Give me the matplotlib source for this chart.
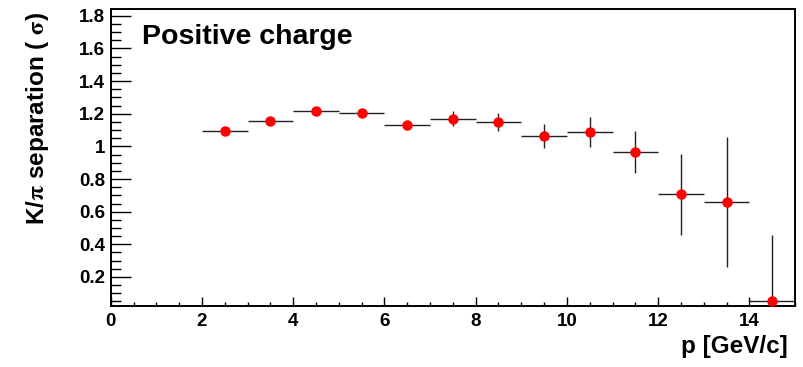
import matplotlib
matplotlib.use("Agg")
import matplotlib.pyplot as plt
from matplotlib.ticker import MultipleLocator, FuncFormatter

# momentum bins (GeV/c), separation and its uncertainty
bin_centers = [2.5, 3.5, 4.5, 5.5, 6.5, 7.5, 8.5, 9.5, 10.5, 11.5, 12.5, 13.5, 14.5]
bin_half_width = [0.5] * 13
separation = [1.094, 1.155, 1.216, 1.207, 1.130, 1.170, 1.149, 1.063, 1.088, 0.967, 0.706, 0.659, 0.055]
separation_err = [0.012, 0.012, 0.012, 0.012, 0.015, 0.045, 0.053, 0.072, 0.094, 0.130, 0.247, 0.400, 0.400]

plt.rcParams["font.family"] = ["Liberation Sans", "DejaVu Sans"]
plt.rcParams["font.weight"] = "bold"
plt.rcParams["mathtext.fontset"] = "stix"

fig = plt.figure(figsize=(8.04, 3.67), dpi=100)
ax = fig.add_axes([0.1377, 0.1662, 0.9888 - 0.1377, 0.9747 - 0.1662])

ax.errorbar(bin_centers, separation, xerr=bin_half_width, yerr=separation_err,
            fmt="o", color="red", markersize=6.5, ecolor="#222222", elinewidth=1.0,
            capsize=0, zorder=3)

ax.set_xlim(0, 15)
ax.set_ylim(0.022, 1.84)

ax.xaxis.set_major_locator(MultipleLocator(2))
ax.xaxis.set_minor_locator(MultipleLocator(0.5))
ax.yaxis.set_major_locator(MultipleLocator(0.2))
ax.yaxis.set_minor_locator(MultipleLocator(0.05))
ax.yaxis.set_major_formatter(FuncFormatter(lambda v, p: f"{v:.1f}".rstrip("0").rstrip(".")))

ax.tick_params(axis="both", which="both", direction="in", top=False, right=False,
               labelsize=13.5, width=1.0)
ax.tick_params(axis="y", which="major", length=14.4, pad=4)
ax.tick_params(axis="y", which="minor", length=7.2)
ax.tick_params(axis="x", which="major", length=6.5, pad=5)
ax.tick_params(axis="x", which="minor", length=3.2)
for lab in ax.get_xticklabels() + ax.get_yticklabels():
    lab.set_fontweight("bold")

for s in ax.spines.values():
    s.set_linewidth(1.4)

fig.text(142 / 804, 1 - 44 / 367, "Positive charge",
         fontsize=20.5, fontweight="bold", ha="left", va="baseline")

fig.text(788 / 804, 1 - 353 / 367, "p [GeV/c]", fontsize=17.5, fontweight="bold",
         ha="right", va="baseline")
fig.text(24 / 804, 1 - 12 / 367, r"K/$\mathrm{\pi}$ separation ( $\mathrm{\sigma}$)",
         fontsize=17.5, fontweight="bold", rotation=90, ha="left", va="top")

fig.savefig("out.png", dpi=100)
